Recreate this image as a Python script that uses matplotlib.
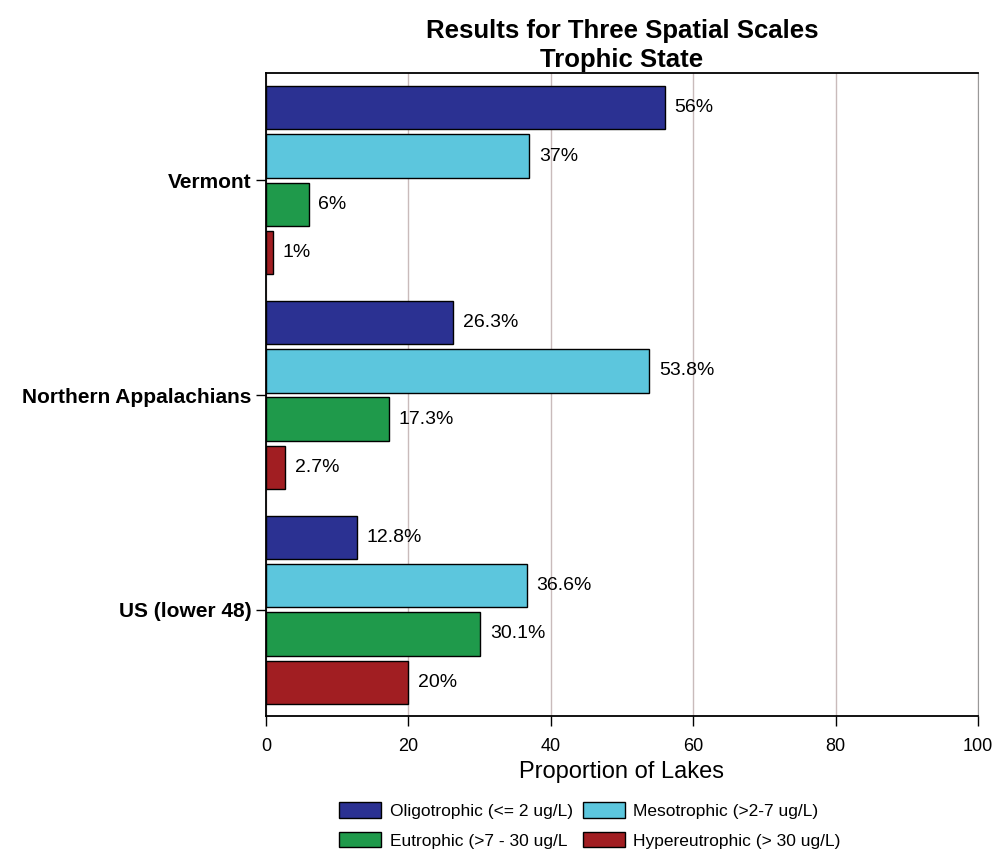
import numpy as np
import matplotlib.pyplot as plt
from matplotlib.patches import Patch

plt.rcParams['font.family'] = ['Liberation Sans', 'DejaVu Sans']

regions = ['Vermont', 'Northern Appalachians', 'US (lower 48)']
classes = ['Oligotrophic (<= 2 ug/L)', 'Mesotrophic (>2-7 ug/L)',
           'Eutrophic (>7 - 30 ug/L', 'Hypereutrophic (> 30 ug/L)']
oligo = [56, 26.3, 12.8]
meso = [37, 53.8, 36.6]
eutro = [6, 17.3, 30.1]
hyper = [1, 2.7, 20]
labels = [['56%', '26.3%', '12.8%'],
          ['37%', '53.8%', '36.6%'],
          ['6%', '17.3%', '30.1%'],
          ['1%', '2.7%', '20%']]
colors = ['#2B3192', '#5CC6DD', '#1F9A4B', '#A11E22']

fig = plt.figure(figsize=(9.95, 8.57), dpi=100)
ax = fig.add_axes([0.2673, 0.1645, 0.7156, 0.7503])

centers = np.array([0, 4.45, 8.9])
offsets = [-1.5, -0.5, 0.5, 1.5]
series = [oligo, meso, eutro, hyper]
for k, vals in enumerate(series):
    bars = ax.barh(centers + offsets[k], vals, height=0.9, color=colors[k],
                   edgecolor='black', linewidth=1, zorder=3)
    for b, lab in zip(bars, labels[k]):
        ax.annotate(lab, (b.get_width(), b.get_y() + b.get_height() / 2),
                    xytext=(7, 0), textcoords='offset points',
                    va='center', ha='left', fontsize=14)

ax.set_xlim(0, 100)
ax.set_ylim(11.1, -2.22)
ax.set_xticks([0, 20, 40, 60, 80, 100])
ax.set_yticks(centers)
ax.set_yticklabels(regions, fontsize=15, fontweight='bold')
ax.tick_params(axis='x', labelsize=13, length=7, width=1, pad=9)
ax.tick_params(axis='y', length=7, width=1)
ax.xaxis.grid(True, color='#C9BBBB', linewidth=1, zorder=0)
ax.set_axisbelow(True)
for s in ['left', 'bottom', 'top']:
    ax.spines[s].set_linewidth(1.3)
ax.spines['right'].set_color('#999999')
ax.spines['right'].set_linewidth(0.8)

ax.set_xlabel('Proportion of Lakes', fontsize=17, labelpad=4)
ax.set_title('Results for Three Spatial Scales\nTrophic State',
             fontsize=18.5, fontweight='bold', pad=4, linespacing=1.3)

# legend fills column-wise, so order for rows: oligo/meso, eutro/hyper
order = [0, 2, 1, 3]
handles = [Patch(facecolor=colors[i], edgecolor='black') for i in order]
fig.legend(handles, [classes[i] for i in order], loc='center',
           bbox_to_anchor=(0.593, 0.037), ncol=2, frameon=False,
           fontsize=12.5, handlelength=2.4, handleheight=1.0,
           columnspacing=0.6, handletextpad=0.5, labelspacing=0.75)

fig.savefig('out.png', dpi=100)
